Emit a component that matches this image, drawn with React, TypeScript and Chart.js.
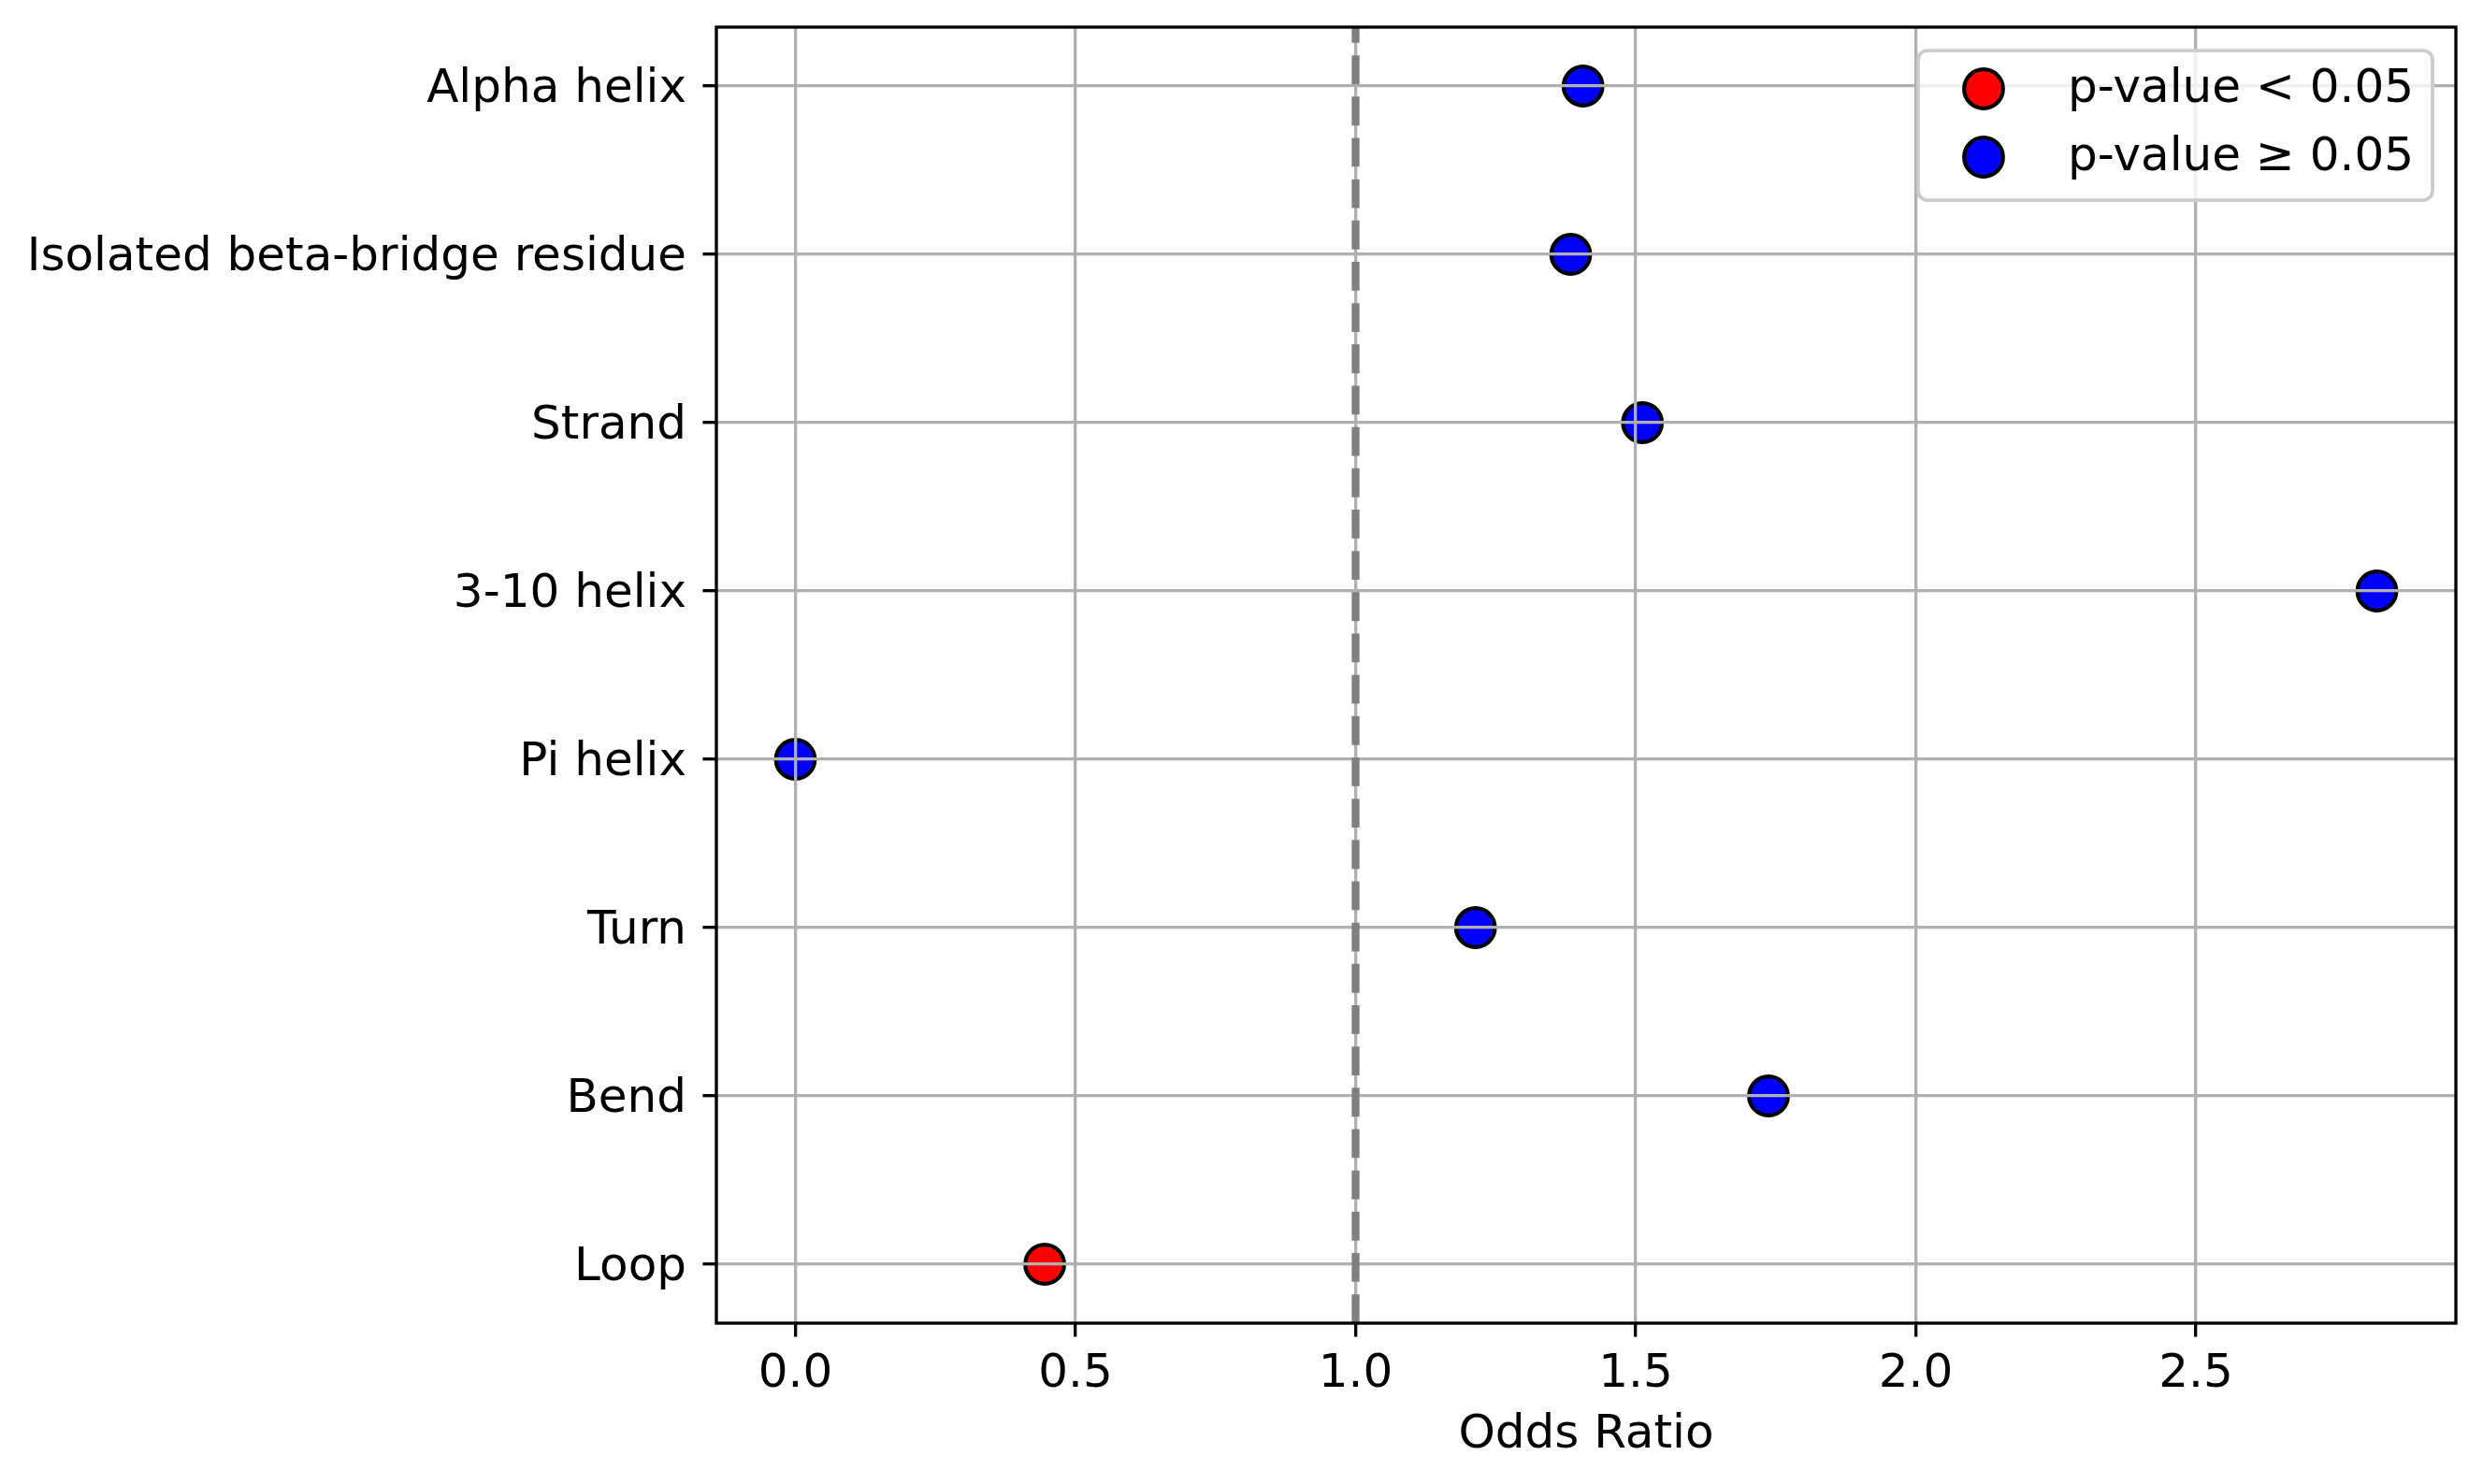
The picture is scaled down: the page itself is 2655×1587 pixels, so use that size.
import { useEffect, useRef } from "react";
import { Chart, registerables } from "chart.js";

Chart.register(...registerables);

// secondary structure categories, top to bottom
const categories = [
  "Alpha helix",
  "Isolated beta-bridge residue",
  "Strand",
  "3-10 helix",
  "Pi helix",
  "Turn",
  "Bend",
  "Loop",
];
const oddsRatios = [1.406, 1.384, 1.512, 2.823, 0.0, 1.214, 1.737, 0.445];
const significant = [false, false, false, false, false, false, false, true];

const legendLabels = ["p-value < 0.05", "p-value \u2265 0.05"];
const xTicks = [0, 0.5, 1.0, 1.5, 2.0, 2.5];
const referenceOdds = 1.0;

const PT = 300 / 72; // matplotlib points -> px at 300 dpi
const FONT = "'DejaVu Sans', sans-serif";

const chartDecor = {
  id: "chartDecor",
  afterDraw(chart: any) {
    const { ctx, chartArea: a, scales } = chart;
    const xs = scales.x;

    // reference line at OR = 1
    const xr = xs.getPixelForValue(referenceOdds);
    ctx.save();
    ctx.strokeStyle = "#808080";
    ctx.lineWidth = 2 * PT;
    ctx.setLineDash([3.7 * 2 * PT, 1.6 * 2 * PT]);
    ctx.beginPath();
    ctx.moveTo(xr, a.bottom);
    ctx.lineTo(xr, a.top);
    ctx.stroke();
    ctx.restore();

    // frame
    ctx.save();
    ctx.strokeStyle = "#000";
    ctx.lineWidth = 0.8 * PT;
    ctx.strokeRect(a.left, a.top, a.right - a.left, a.bottom - a.top);
    ctx.restore();

    // legend box, upper right
    const fs = 50;
    ctx.save();
    ctx.font = `${fs}px ${FONT}`;
    const textW = Math.max(...legendLabels.map((t) => ctx.measureText(t).width));
    const pad = 0.4 * fs;
    const handle = 2 * fs;
    const gap = 0.8 * fs;
    const w = 2 * pad + handle + gap + textW;
    const h = 160;
    const right = a.right - 0.5 * fs;
    const top = a.top + 0.5 * fs;
    const left = right - w;
    ctx.beginPath();
    ctx.roundRect(left, top, w, h, 10);
    ctx.fillStyle = "rgba(255,255,255,0.8)";
    ctx.fill();
    ctx.strokeStyle = "#cccccc";
    ctx.lineWidth = 1 * PT * 0.9;
    ctx.stroke();

    const rows = [top + 41, top + 114];
    chart.data.datasets.forEach((ds: any, i: number) => {
      const cy = rows[i];
      const cx = left + pad + handle / 2;
      ctx.beginPath();
      ctx.arc(cx, cy, ds.pointRadius, 0, Math.PI * 2);
      ctx.fillStyle = ds.backgroundColor;
      ctx.fill();
      ctx.lineWidth = ds.borderWidth;
      ctx.strokeStyle = ds.borderColor;
      ctx.stroke();
      ctx.fillStyle = "#000";
      ctx.textAlign = "left";
      ctx.textBaseline = "middle";
      ctx.fillText(ds.label, left + pad + handle + gap, cy + 1);
    });
    ctx.restore();
  },
};

export default function App() {
  const canvasRef = useRef<HTMLCanvasElement>(null);
  const chartRef = useRef<Chart | null>(null);

  useEffect(() => {
    if (!canvasRef.current) return;
    if (chartRef.current) chartRef.current.destroy();

    const points = categories.map((c, i) => ({ x: oddsRatios[i], y: i, sig: significant[i], c }));
    const marker = {
      pointRadius: 5 * PT,
      pointHoverRadius: 5 * PT,
      borderWidth: 1 * PT,
      borderColor: "#000",
      pointStyle: "circle",
    };

    chartRef.current = new Chart(canvasRef.current, {
      type: "scatter",
      data: {
        datasets: [
          {
            label: legendLabels[0],
            data: points.filter((p) => p.sig).map((p) => ({ x: p.x, y: p.y })),
            backgroundColor: "#ff0000",
            ...marker,
          },
          {
            label: legendLabels[1],
            data: points.filter((p) => !p.sig).map((p) => ({ x: p.x, y: p.y })),
            backgroundColor: "#0000ff",
            ...marker,
          },
        ] as any,
      },
      options: {
        responsive: false,
        devicePixelRatio: 1,
        animation: false,
        layout: { padding: { top: 29, right: 29, left: 0, bottom: 0 } },
        plugins: {
          legend: { display: false },
          tooltip: { enabled: false },
        },
        scales: {
          x: {
            type: "linear",
            min: -0.141,
            max: 2.964,
            afterBuildTicks: (s: any) => {
              s.ticks = xTicks.map((v) => ({ value: v }));
            },
            afterFit: (s: any) => {
              s.height = 172;
              s.paddingLeft = 0;
              s.paddingRight = 0;
            },
            ticks: {
              color: "#000",
              font: { family: FONT, size: 50 },
              padding: 10.5,
              callback: (v: any) => Number(v).toFixed(1),
            },
            grid: {
              z: 1,
              color: "#b0b0b0",
              lineWidth: 0.8 * PT,
              tickColor: "#000",
              tickWidth: 0.8 * PT,
              tickLength: 3.5 * PT,
            },
            border: { display: false },
            title: {
              display: true,
              text: "Odds Ratio",
              color: "#000",
              font: { family: FONT, size: 50 },
              padding: { top: 0, bottom: 22 },
            },
          },
          y: {
            type: "linear",
            reverse: true,
            min: -0.35,
            max: 7.35,
            afterBuildTicks: (s: any) => {
              s.ticks = categories.map((_, i) => ({ value: i }));
            },
            afterFit: (s: any) => {
              s.width = 766;
              s.paddingTop = 0;
              s.paddingBottom = 0;
            },
            ticks: {
              color: "#000",
              font: { family: FONT, size: 50 },
              padding: 17.4,
              labelOffset: 4,
              callback: (v: any) => categories[Number(v)] ?? "",
            },
            grid: {
              z: 1,
              color: "#b0b0b0",
              lineWidth: 0.8 * PT,
              tickColor: "#000",
              tickWidth: 0.8 * PT,
              tickLength: 3.5 * PT,
            },
            border: { display: false },
          },
        },
      },
      plugins: [chartDecor],
    });

    return () => {
      if (chartRef.current) {
        chartRef.current.destroy();
        chartRef.current = null;
      }
    };
  }, []);

  return (
    <div style={{ position: "fixed", left: 0, top: 0, width: 2655, height: 1587, background: "#fff" }}>
      <canvas ref={canvasRef} width={2655} height={1587} style={{ display: "block" }} />
    </div>
  );
}
